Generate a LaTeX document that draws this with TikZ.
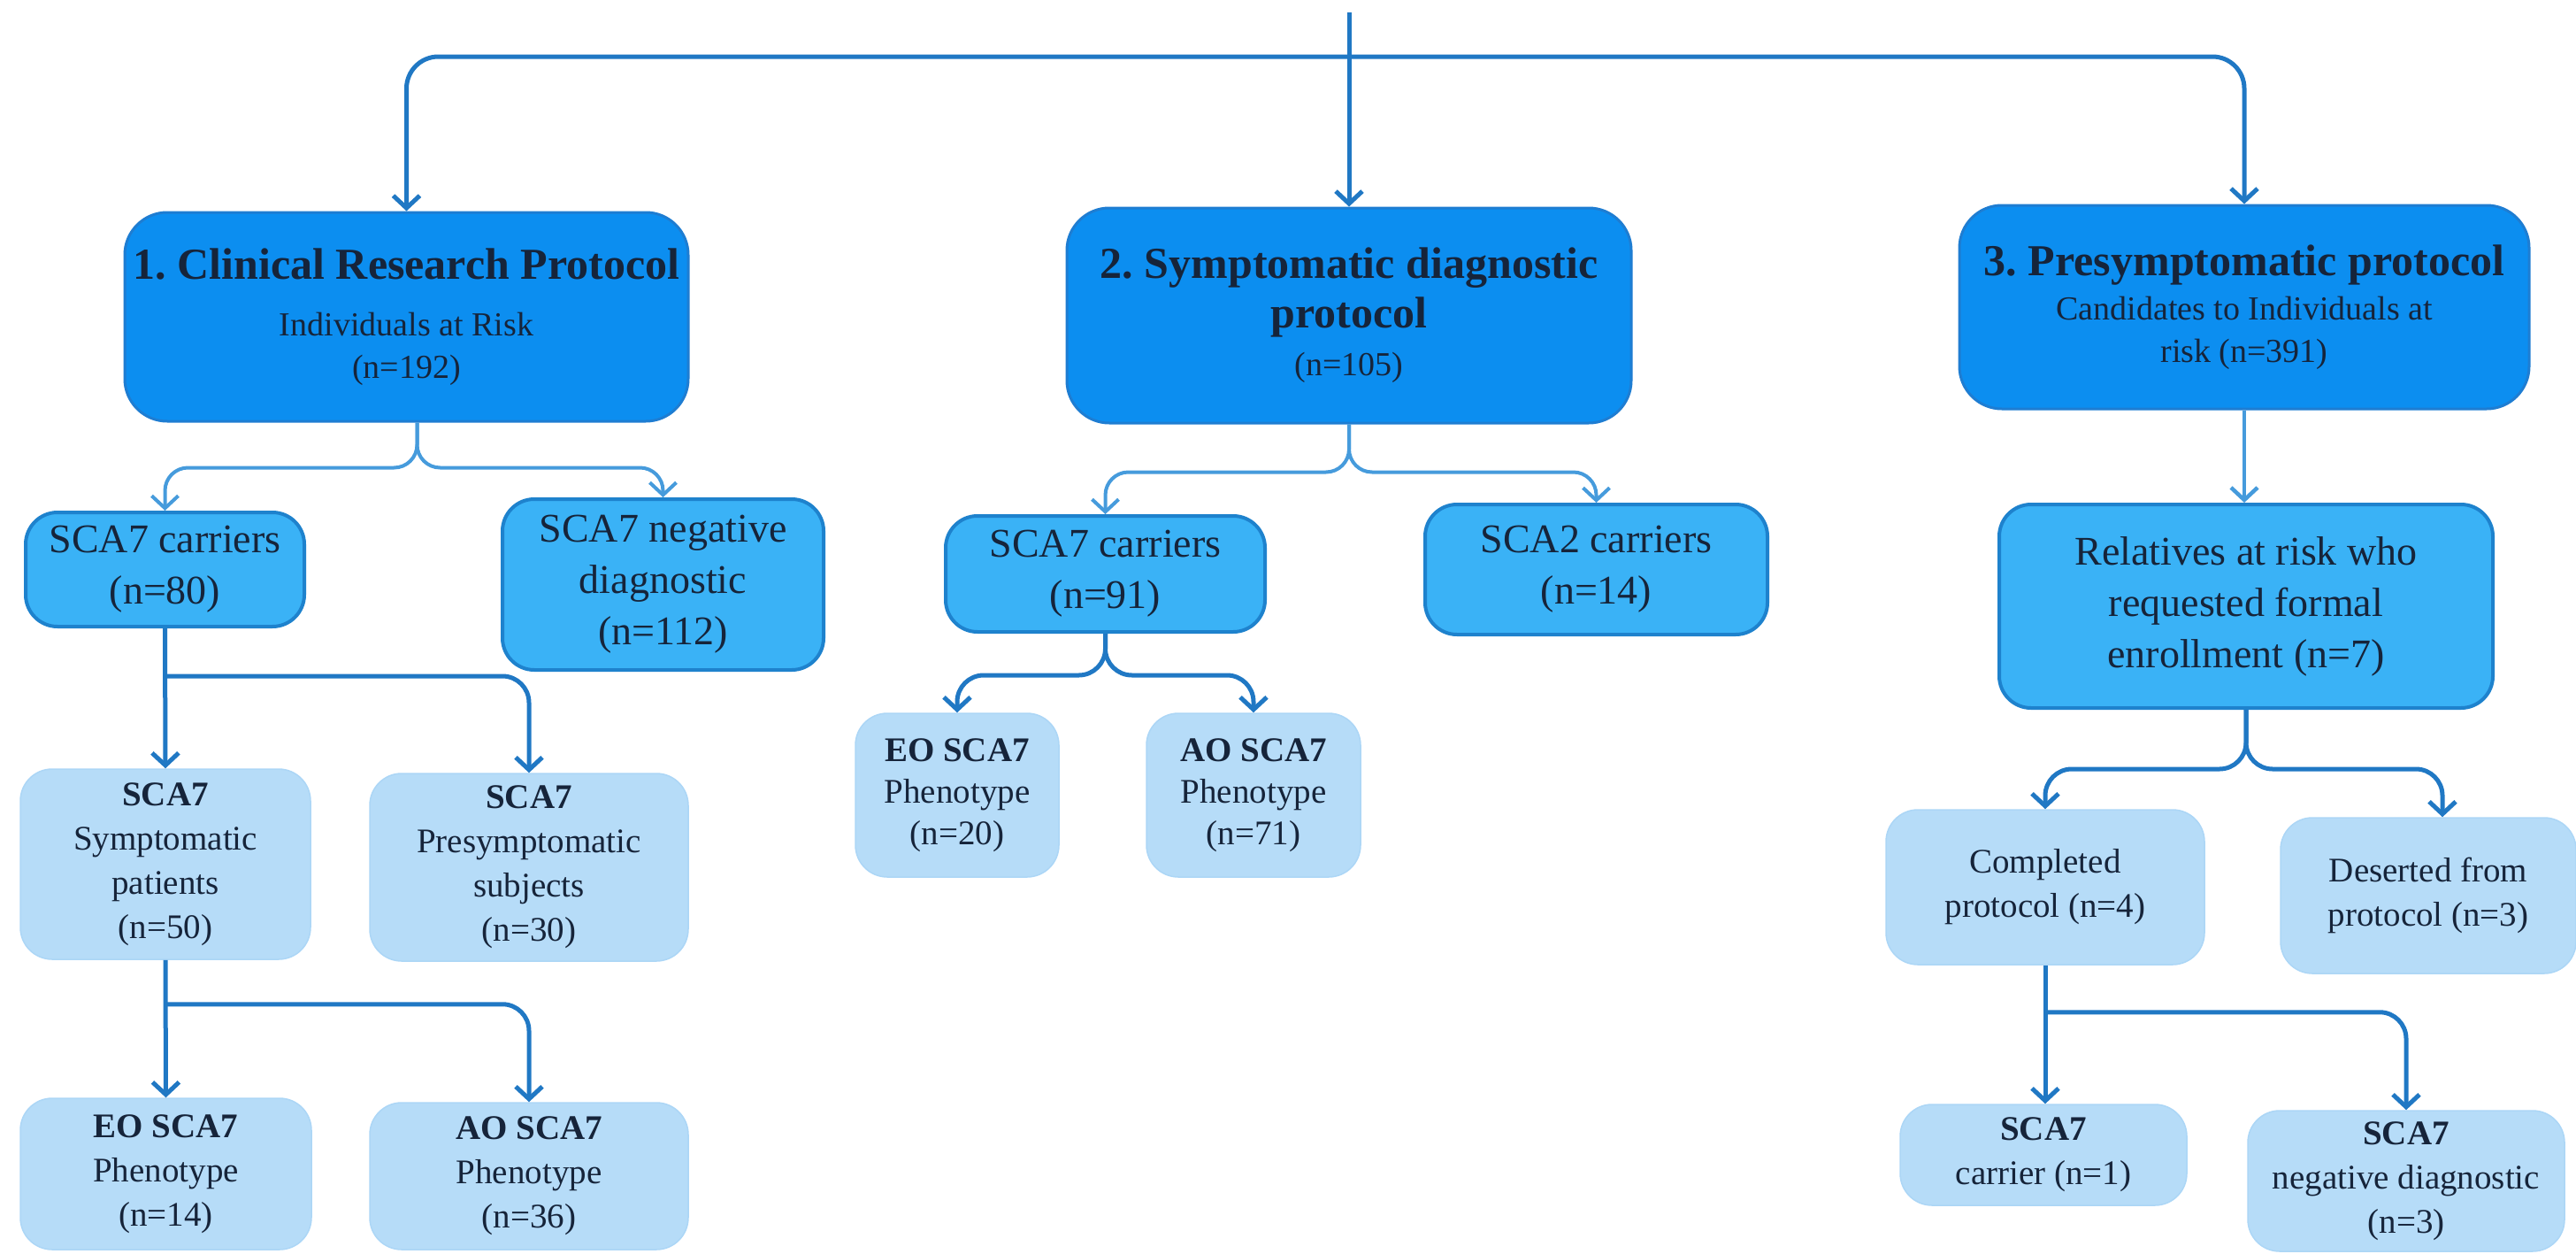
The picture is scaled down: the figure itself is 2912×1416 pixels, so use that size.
\documentclass[tikz,border=0pt]{standalone}
\usepackage{fontspec}
\setmainfont{Liberation Serif}
\frenchspacing
\usetikzlibrary{arrows.meta}
\definecolor{lone}{RGB}{12,142,240}
\definecolor{loneb}{RGB}{30,125,210}
\definecolor{ltwo}{RGB}{58,178,246}
\definecolor{ltwob}{RGB}{30,130,205}
\definecolor{lthree}{RGB}{182,220,248}
\definecolor{lthreeb}{RGB}{172,214,246}
\definecolor{ink}{RGB}{22,36,58}
\definecolor{wire}{RGB}{32,120,196}
\definecolor{wirelt}{RGB}{70,155,220}
\newcommand\hdfont{\fontsize{50}{48}\selectfont\bfseries}
\tikzset{
  box/.style={rectangle, rounded corners=#1, align=center, inner sep=0pt, text=ink},
  lvone/.style={box=48pt, fill=lone, draw=loneb, line width=3pt, font=\fontsize{38}{48}\selectfont},
  lvtwo/.style={box=36pt, fill=ltwo, draw=ltwob, line width=4pt, font=\fontsize{46}{58}\selectfont},
  lvthree/.style={box=36pt, fill=lthree, draw=lthreeb, line width=1.5pt, font=\fontsize{39}{50}\selectfont},
  tip/.style={-{Straight Barb[length=14pt,width=30pt]}},
  wtop/.style={draw=wire, line width=5pt, rounded corners=36pt},
  wlt/.style={draw=wirelt, line width=4pt, rounded corners=26pt, tip},
  wmd/.style={draw=wirelt, line width=4.5pt, tip},
  wdk/.style={draw=wire, line width=5pt, rounded corners=30pt, tip}
}
\begin{document}
\begin{tikzpicture}[x=1pt,y=-1pt]
\useasboundingbox (0,0) rectangle (2912,1416);
% level 1
\node[lvone, minimum width=637pt, minimum height=236pt] (p1) at (459.5,358)
  {{\hdfont 1. Clinical Research Protocol}\\[16pt] Individuals at Risk\\ (n=192)};
\node[lvone, minimum width=638pt, minimum height=243pt] (p2) at (1525,356.5)
  {{\hdfont 2. Symptomatic diagnostic}\\[8pt]{\hdfont protocol}\\[6pt](n=105)};
\node[lvone, minimum width=644pt, minimum height=230pt] (p3) at (2537,347)
  {{\hdfont 3. Presymptomatic protocol}\\[2pt] Candidates to Individuals at\\ risk (n=391)};
% level 2
\node[lvtwo, minimum width=315pt, minimum height=129pt] (c1) at (186.5,643.5) {SCA7 carriers\\(n=80)};
\node[lvtwo, minimum width=363pt, minimum height=193pt] (n1) at (749.5,660.5) {SCA7 negative\\diagnostic\\(n=112)};
\node[lvtwo, minimum width=361pt, minimum height=131pt] (c2) at (1249.5,648.5) {SCA7 carriers\\(n=91)};
\node[lvtwo, minimum width=387pt, minimum height=147pt] (s2) at (1804.5,643.5) {SCA2 carriers\\(n=14)};
\node[lvtwo, minimum width=558pt, minimum height=230pt] (r3) at (2539,685) {Relatives at risk who\\requested formal\\enrollment (n=7)};
% level 3
\node[lvthree, minimum width=328pt, minimum height=215pt] (sym) at (187,976.5) {\textbf{SCA7}\\Symptomatic\\patients\\(n=50)};
\node[lvthree, minimum width=360pt, minimum height=212pt] (pre) at (598,980) {\textbf{SCA7}\\Presymptomatic\\subjects\\(n=30)};
\node[lvthree, minimum width=329pt, minimum height=171pt] (eo14) at (187.5,1326.5) {\textbf{EO SCA7}\\Phenotype\\(n=14)};
\node[lvthree, minimum width=360pt, minimum height=166pt] (ao36) at (598,1329) {\textbf{AO SCA7}\\Phenotype\\(n=36)};
\node[lvthree, minimum width=230pt, minimum height=185pt, font=\fontsize{39}{47}\selectfont] (eo20) at (1082,898.5) {\textbf{EO SCA7}\\Phenotype\\(n=20)};
\node[lvthree, minimum width=242pt, minimum height=185pt, font=\fontsize{39}{47}\selectfont] (ao71) at (1417,898.5) {\textbf{AO SCA7}\\Phenotype\\(n=71)};
\node[lvthree, minimum width=360pt, minimum height=175pt] (comp) at (2312,1002.5) {Completed\\protocol (n=4)};
\node[lvthree, minimum width=334pt, minimum height=176pt] (des) at (2745,1012) {Deserted from\\protocol (n=3)};
\node[lvthree, minimum width=324pt, minimum height=114pt] (car1) at (2310,1305) {\textbf{SCA7}\\carrier (n=1)};
\node[lvthree, minimum width=358pt, minimum height=159pt] (neg3) at (2720,1334.5) {\textbf{SCA7}\\negative diagnostic\\(n=3)};
% top connectors
\coordinate (src) at (1525,14);
\coordinate (hub) at (1525,64);
\draw[wtop, tip] (src) -- (p2.north);
\draw[wtop, tip] (hub) -| (p1.north);
\draw[wtop, tip] (hub) -| (p3.north);
% level 1 -> level 2
\draw[wlt] ([xshift=12pt]p1.south) -- ++(0,51) -| (c1.north);
\draw[wlt] ([xshift=12pt]p1.south) -- ++(0,51) -| (n1.north);
\draw[wlt] (p2.south) -- ++(0,54) -| (c2.north);
\draw[wlt] (p2.south) -- ++(0,54) -| (s2.north);
\draw[wmd] (p3.south) -- (p3.south |- r3.north);
% level 2 -> level 3
\draw[wdk] (c1.south) -- (sym.north);
\draw[wdk] (c1.south) ++(0,54) -| (pre.north);
\draw[wdk] (c2.south) -- ++(0,47) -| (eo20.north);
\draw[wdk] (c2.south) -- ++(0,47) -| (ao71.north);
\draw[wdk] (sym.south) -- (eo14.north);
\draw[wdk] (sym.south) ++(0,50) -| (ao36.north);
\draw[wdk] (r3.south) -- ++(0,67) -| (comp.north);
\draw[wdk] (r3.south) -- ++(0,67) -| ([xshift=16pt]des.north);
\draw[wdk] (comp.south) -- (comp.south |- car1.north);
\draw[wdk] (comp.south) ++(0,53) -| (neg3.north);
\end{tikzpicture}
\end{document}
